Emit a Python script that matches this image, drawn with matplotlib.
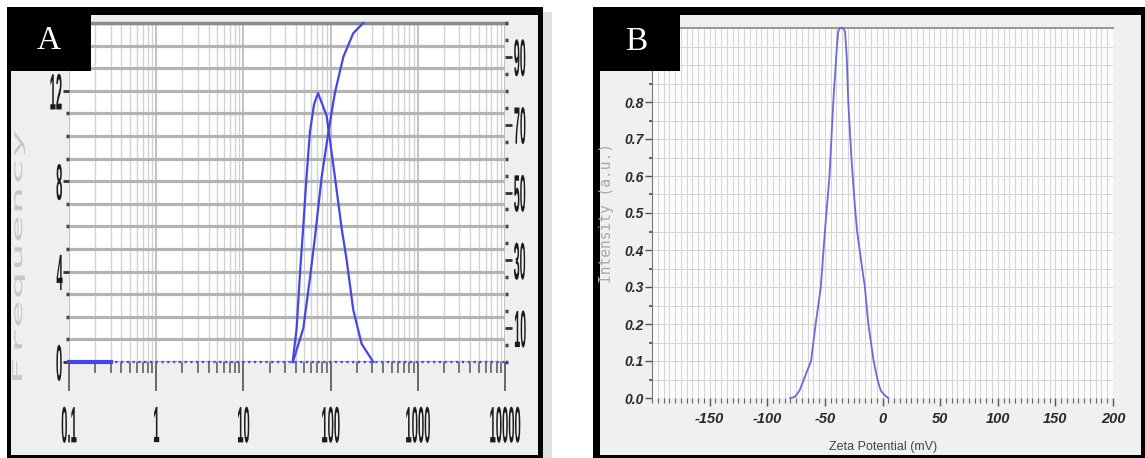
import matplotlib.pyplot as plt
from matplotlib.patches import Rectangle
from matplotlib.patheffects import AbstractPathEffect
from matplotlib.transforms import Affine2D
from matplotlib.ticker import MultipleLocator, LogLocator, NullFormatter

# --- panel A: size distribution (frequency + cumulative) ---
size_nm = [36.7, 40.8, 44.7, 48.6, 53, 58, 64.6, 71.7, 90, 112, 134, 153, 182, 227, 309]
frequency = [0, 1.5, 4.0, 6.0, 8.2, 10.2, 11.4, 11.9, 10.9, 8.2, 5.9, 4.5, 2.3, 0.8, 0]
cum_size_nm = [37, 48.7, 58, 66, 79, 94, 112, 140, 182, 237]
cumulative = [0, 10, 24.8, 36.6, 54.6, 67.6, 79.4, 90, 97, 100]
baseline_solid_nm = [0.1, 0.3]
size_ticks = [0.1, 1, 10, 100, 1000, 10000]
size_labels = ["0.1", "1", "10", "100", "1000", "10000"]
freq_ticks = [0, 4, 8, 12]
cum_ticks = [10, 30, 50, 70, 90]

# --- panel B: zeta potential ---
zeta_mv = [-80, -76, -72, -67, -62, -58, -53.5, -50, -46, -42.7, -40, -38.5, -37, -34,
           -32.5, -31, -29.7, -27, -24, -22, -18.5, -15.3, -12.3, -7.7, -4, -1.5, 2, 5]
intensity = [0.0, 0.003, 0.02, 0.06, 0.10, 0.20, 0.30, 0.45, 0.60, 0.80, 0.93, 0.99, 1.0, 1.0,
             0.99, 0.92, 0.80, 0.65, 0.52, 0.45, 0.37, 0.30, 0.20, 0.10, 0.045, 0.02, 0.007, 0.0]
zeta_ticks = [-150, -100, -50, 0, 50, 100, 150, 200]
zeta_labels = ["-150", "-100", "-50", "0", "50", "100", "150", "200"]
intensity_ticks = [0.0, 0.1, 0.2, 0.3, 0.4, 0.5, 0.6, 0.7, 0.8]


class Squeeze(AbstractPathEffect):
    # reshape glyphs like the stretched scan of panel A
    def __init__(self, sx, sy=1.0, xanchor="center", yanchor="center"):
        super().__init__()
        self.sx, self.sy = sx, sy
        self.xanchor, self.yanchor = xanchor, yanchor

    def draw_path(self, renderer, gc, tpath, affine, rgbFace=None):
        ext = tpath.get_extents()
        cx = {"center": (ext.x0 + ext.x1) / 2, "left": ext.x0, "right": ext.x1}[self.xanchor]
        cy = {"center": (ext.y0 + ext.y1) / 2, "top": ext.y1, "bottom": ext.y0}[self.yanchor]
        t = Affine2D().translate(-cx, -cy).scale(self.sx, self.sy).translate(cx, cy)
        renderer.draw_path(gc, tpath, t + affine, rgbFace)


W, H = 1145, 458
fig = plt.figure(figsize=(W / 100, H / 100), dpi=100)
fig.patch.set_facecolor("white")


def fig_box(l, t, r, b, **kw):
    fig.add_artist(Rectangle((l / W, 1 - b / H), (r - l) / W, (b - t) / H,
                             transform=fig.transFigure, **kw))


def px_axes(l, t, r, b):
    return fig.add_axes([l / W, 1 - b / H, (r - l) / W, (b - t) / H])


# frames
fig_box(543, 12, 552, 458, fc="#cccccc", alpha=0.6, lw=0, zorder=-4)
fig_box(7, 7, 543, 458, fc="black", lw=0, zorder=-3)
fig_box(11, 15, 538, 455, fc="#efefef", lw=0, zorder=-2)
fig_box(593, 7, 1145, 458, fc="black", lw=0, zorder=-3)
fig_box(600, 15, 1141, 455, fc="#f0f0f0", lw=0, zorder=-2)

blue_a = "#4646e6"
blue_b = "#6a6ad8"

# ---------------- panel A ----------------
axA = px_axes(69, 23, 505, 362)
axA.set_facecolor("white")
axA.set_xscale("log")
axA.set_xlim(0.1, 10000)
axA.set_ylim(0, 15)
axA.set_xticks(size_ticks)
axA.set_xticklabels(size_labels)
axA.xaxis.set_minor_locator(LogLocator(base=10, subs=range(2, 10), numticks=20))
axA.xaxis.set_minor_formatter(NullFormatter())
axA.set_yticks(freq_ticks)
axA.yaxis.set_minor_locator(MultipleLocator(1))
axA.grid(which="major", axis="x", color="#b8b8b8", lw=1.2)
axA.grid(which="minor", axis="x", color="#d2d2d2", lw=1.0)
axA.grid(which="both", axis="y", color="#b4b4b4", lw=2.3)
axA.set_axisbelow(True)
for s in ["left", "right", "bottom"]:
    axA.spines[s].set_visible(False)
axA.spines["top"].set_color("#8a8a8a")
axA.spines["top"].set_linewidth(2.5)
axA.tick_params(axis="x", which="major", direction="out", length=21, width=1.1,
                color="#444444", pad=10, labelsize=18, labelcolor="#1a1a1a")
axA.tick_params(axis="x", which="minor", direction="out", length=8, width=1.1, color="#555555")
axA.tick_params(axis="y", which="major", direction="out", length=4, width=2, color="#333333",
                pad=0.5, labelsize=18, labelcolor="#1a1a1a")
axA.tick_params(axis="y", which="minor", direction="out", length=2, width=2.5, color="#444444")
for lab in axA.get_xticklabels():
    lab.set_fontweight("bold")
    lab.set_family("Liberation Sans")
    lab.set_path_effects([Squeeze(0.45, 2.05, "center", "top")])
for lab in axA.get_yticklabels():
    lab.set_fontweight("bold")
    lab.set_family("Liberation Sans")
    lab.set_path_effects([Squeeze(0.45, 2.05, "right", "center")])

axA.axhline(0, color=blue_a, lw=1.6, ls=(0, (1, 1.6)), clip_on=False, zorder=3)
axA.plot(baseline_solid_nm, [0, 0], color=blue_a, lw=3, clip_on=False, zorder=3)
axA.plot(size_nm, frequency, color=blue_a, lw=1.6, clip_on=False, zorder=4)

axA2 = axA.twinx()
axA2.set_ylim(0, 100)
axA2.set_yticks(cum_ticks)
axA2.yaxis.set_minor_locator(MultipleLocator(5))
for s in axA2.spines.values():
    s.set_visible(False)
axA2.tick_params(axis="y", which="major", direction="out", length=5, width=2, color="#333333",
                 pad=1, labelsize=18, labelcolor="#1a1a1a")
axA2.tick_params(axis="y", which="minor", direction="out", length=2, width=2.5, color="#444444")
for lab in axA2.get_yticklabels():
    lab.set_fontweight("bold")
    lab.set_family("Liberation Sans")
    lab.set_path_effects([Squeeze(0.43, 2.1, "left", "center")])
axA2.plot(cum_size_nm, cumulative, color=blue_a, lw=1.6, clip_on=False, zorder=4)

fig.text(18 / W, 1 - 256 / H, "Frequency", rotation=90, ha="center", va="center",
         family="DejaVu Sans Mono", fontsize=10, color="#c6c6c6",
         path_effects=[Squeeze(3.4)])

# ---------------- panel B ----------------
axB = px_axes(652, 28, 1113, 398)
axB.set_facecolor("#fcfcfc")
axB.set_xlim(-200, 200)
axB.set_ylim(0, 1.0)
axB.set_xticks(zeta_ticks)
axB.set_xticklabels(zeta_labels)
axB.xaxis.set_minor_locator(MultipleLocator(5))
axB.set_yticks(intensity_ticks)
axB.set_yticklabels([f"{v:.1f}" for v in intensity_ticks])
axB.yaxis.set_minor_locator(MultipleLocator(0.05))
axB.grid(which="both", color="#d4d4d4", lw=0.7)
axB.set_axisbelow(True)
axB.spines["right"].set_visible(False)
axB.spines["bottom"].set_visible(False)
axB.spines["top"].set_color("#9a9a9a")
axB.spines["top"].set_linewidth(1.5)
axB.spines["left"].set_color("#777777")
axB.tick_params(axis="x", which="major", direction="out", length=6, width=1, color="#555555",
                pad=4, labelsize=10.5, labelcolor="#2a2a2a")
axB.tick_params(axis="x", which="minor", direction="out", length=3.5, width=0.8, color="#666666")
axB.tick_params(axis="y", which="major", direction="out", length=5, width=1, color="#555555",
                pad=1, labelsize=10, labelcolor="#2a2a2a")
axB.tick_params(axis="y", which="minor", direction="out", length=2.5, width=1.5, color="#666666")
for lab in axB.get_xticklabels() + axB.get_yticklabels():
    lab.set_fontweight("bold")
    lab.set_fontstyle("italic")
    lab.set_family("Liberation Sans")
axB.plot(zeta_mv, intensity, color=blue_b, lw=1.3, clip_on=False, zorder=4)

fig.text(883 / W, 1 - 447 / H, "Zeta Potential (mV)", ha="center", va="center",
         family="Liberation Sans", fontsize=9, color="#444444")
fig.text(607 / W, 1 - 213 / H, "Intensity (a.u.)", rotation=90, ha="center", va="center",
         family="DejaVu Sans Mono", fontsize=10.5, color="#a8a8a8")

# panel letters
fig_box(7, 7, 91, 71, fc="black", lw=0, zorder=10)
fig_box(593, 7, 680, 71, fc="black", lw=0, zorder=10)
fig.text(49 / W, 1 - 49 / H, "A", ha="center", va="baseline", family="Liberation Serif",
         fontsize=24, color="white", zorder=11)
fig.text(636 / W, 1 - 50 / H, "B", ha="center", va="baseline", family="Liberation Serif",
         fontsize=24, color="white", zorder=11)

fig.savefig("out.png", dpi=100)
